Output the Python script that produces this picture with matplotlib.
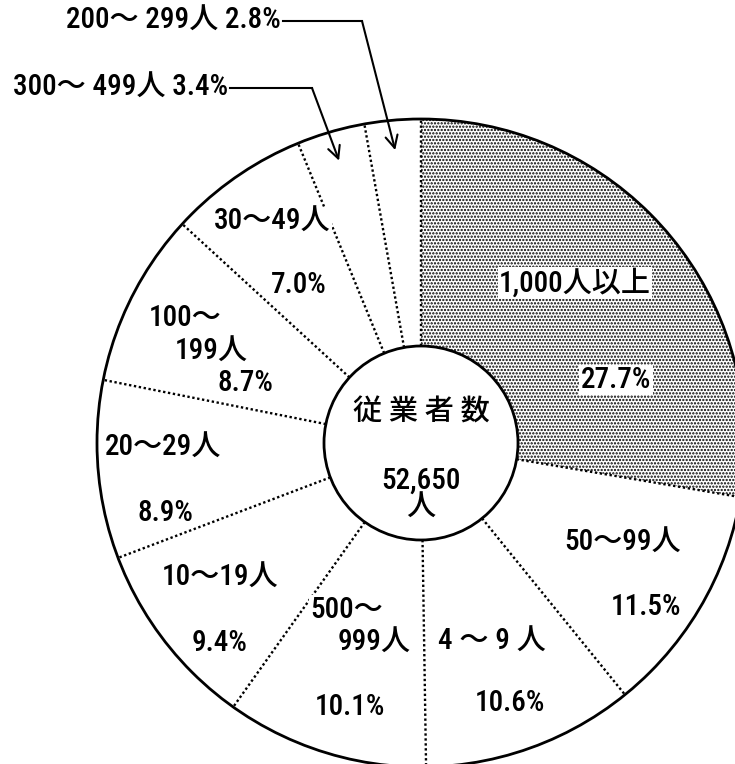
import numpy as np
import matplotlib
matplotlib.use("Agg")
from matplotlib import pyplot as plt
from matplotlib.patches import Circle

# 従業者規模別の従業者数構成比（時計回り、12時から）
labels = ["1,000人以上", "50～99人", "4 ～ 9 人", "500～\n999人", "10～19人",
          "20～29人", "100～\n199人", "30～49人", "300～ 499人", "200～ 299人"]
shares = [27.7, 11.5, 10.6, 10.1, 9.4, 8.9, 8.7, 7.0, 3.4, 2.8]
center_title = "従 業 者 数"
total_workers = "52,650\n人"

FONT = ["Roboto Condensed", "Noto Sans CJK JP", "DejaVu Sans"]
FS = 21
WEIGHT = "medium"
plt.rcParams["hatch.linewidth"] = 1.1
plt.rcParams["hatch.color"] = "black"

CX, CY = 421, 443
R_OUT, R_IN = 324, 97

fig = plt.figure(figsize=(7.35, 7.64), dpi=100)
ax = fig.add_axes([0, 0, 1, 1])

wedges, _ = ax.pie(shares, startangle=-90, counterclock=True,
                   center=(CX, CY), radius=R_OUT,
                   colors=["white"] * len(shares),
                   wedgeprops=dict(linewidth=0, edgecolor="black"))
wedges[0].set_hatch(".....")

ax.set_xlim(0, 735)
ax.set_ylim(764, 0)
ax.set_aspect("equal")
ax.axis("off")

# boundaries between slices
for w in wedges:
    t = np.deg2rad(w.theta1)
    ax.plot([CX + R_IN * np.cos(t), CX + R_OUT * np.cos(t)],
            [CY + R_IN * np.sin(t), CY + R_OUT * np.sin(t)],
            color="black", lw=1.7, linestyle=(0, (1, 1.1)), zorder=3)

ax.add_patch(Circle((CX, CY), R_OUT, facecolor="none", edgecolor="black",
                    lw=2, zorder=4))
ax.add_patch(Circle((CX, CY), R_IN, facecolor="white", edgecolor="black",
                    lw=2, zorder=5))

ax.text(CX, 413, center_title, ha="center", va="center", fontsize=FS,
        family=FONT, weight=WEIGHT, zorder=6)
ax.text(CX, 494, total_workers, ha="center", va="center", fontsize=FS,
        family=FONT, weight=WEIGHT, linespacing=0.95, zorder=6)

box = dict(facecolor="white", edgecolor="none", pad=1)


def label(x, y, s):
    ax.text(x, y, s, ha="center", va="center", fontsize=FS, family=FONT,
            weight=WEIGHT, bbox=box, zorder=6)


# labels inside slices: (name pos, pct pos)
inside = {
    0: ((575, 283), (616, 380)),
    1: ((623, 543), (646, 607)),
    2: ((492, 642), (510, 703)),
    4: ((220, 578), (220, 643)),
    5: ((163, 448), (165, 513)),
    7: ((272, 222), (299, 285)),
}
for i, (p_name, p_pct) in inside.items():
    label(*p_name, labels[i])
    label(*p_pct, f"{shares[i]:.1f}%")

# two-line labels
top, bottom = labels[3].split("\n")
label(347, 610, top)
label(374, 643, bottom)
label(350, 707, f"{shares[3]:.1f}%")

top, bottom = labels[6].split("\n")
label(185, 318, top)
label(211, 352, bottom)
label(245, 383, f"{shares[6]:.1f}%")

# small slices: labels outside with arrows
outside = {8: ((230, 88), 312), 9: ((283, 21), 362)}
for i, ((tx, ty), elbow) in outside.items():
    ax.text(tx - 2, ty, f"{labels[i]} {shares[i]:.1f}%", ha="right",
            va="center", fontsize=FS, family=FONT, weight=WEIGHT, zorder=6)
    t = np.deg2rad((wedges[i].theta1 + wedges[i].theta2) / 2)
    tip = (CX + 294 * np.cos(t), CY + 294 * np.sin(t))
    ax.plot([tx, elbow], [ty, ty], color="black", lw=1.5, zorder=6)
    ax.annotate("", xy=tip, xytext=(elbow, ty),
                arrowprops=dict(arrowstyle="->", lw=1.5, color="black",
                                shrinkA=0, shrinkB=0,
                                mutation_scale=22),
                zorder=6)

fig.savefig("out.png", dpi=100)
